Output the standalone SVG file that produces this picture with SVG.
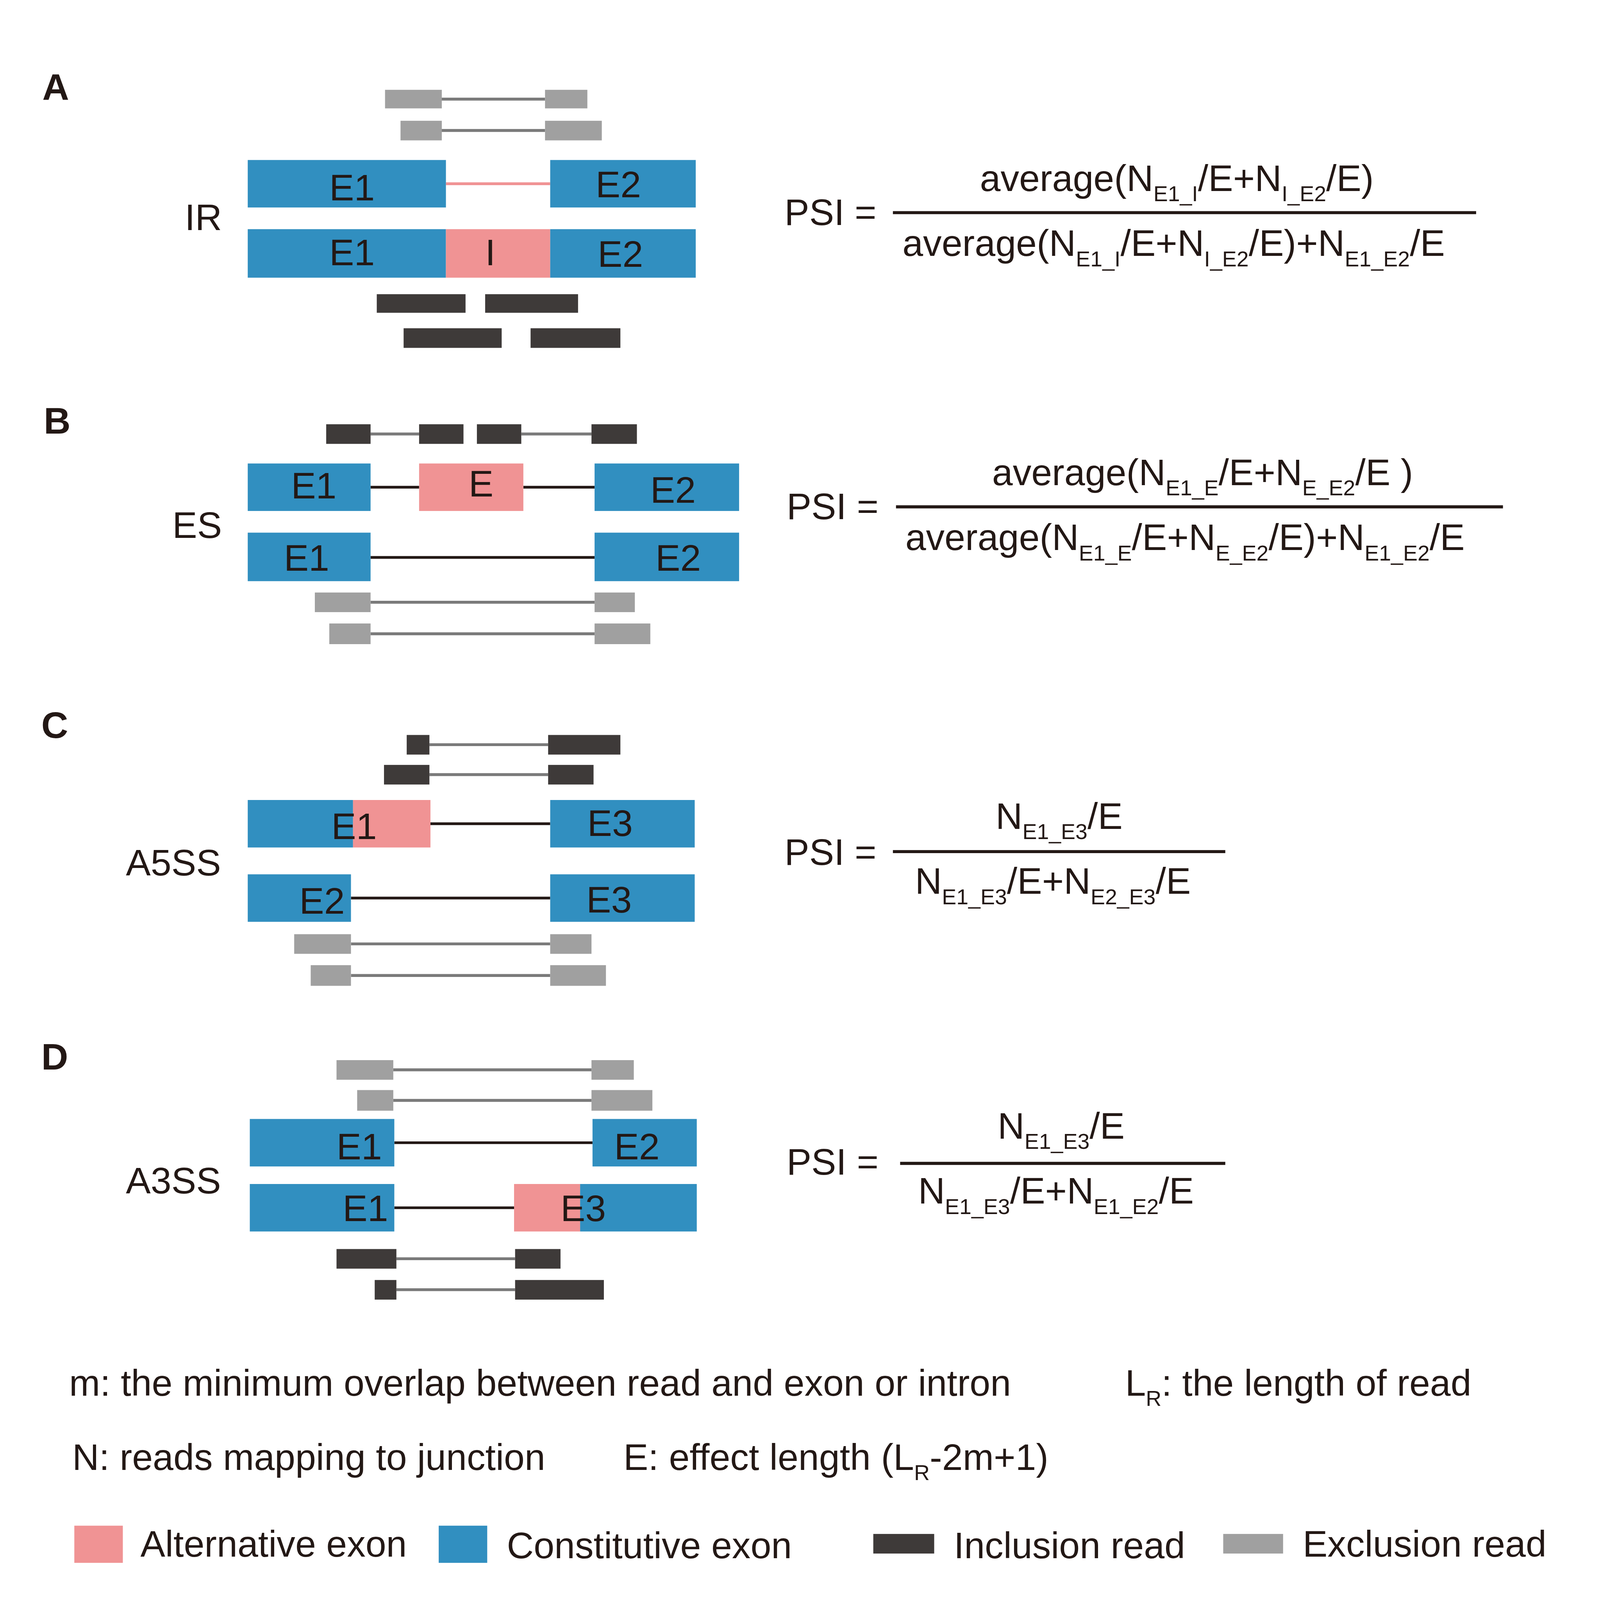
<svg xmlns="http://www.w3.org/2000/svg" width="7750" height="7644" viewBox="0 0 7750 7644" preserveAspectRatio="xMinYMin meet">
<style>
:root{width:100vw;height:100vh}
text{font-family:"Liberation Sans",Arial,sans-serif;fill:#231815;font-size:180px}
.bold{font-weight:bold}
.mid{text-anchor:middle}
.ce{fill:#318fc0}
.ae{fill:#f09394}
.inc{fill:#3e3a39}
.exc{fill:#a0a0a0}
.rl{stroke:#7a7a7a;stroke-width:14;fill:none}
.il{stroke:#231815;stroke-width:13;fill:none}
.pl{stroke:#f09394;stroke-width:14;fill:none}
.fr{stroke:#231815;stroke-width:15;fill:none}
.sub{font-size:105px}
</style>
<rect width="7750" height="7644" fill="#ffffff"/>

<g id="connectors">
  <line class="rl" x1="2140" y1="480" x2="2640" y2="480"/>
  <line class="rl" x1="2140" y1="632" x2="2640" y2="632"/>
  <line class="pl" x1="2160" y1="890" x2="2665" y2="890"/>
  <line class="rl" x1="1795" y1="2102" x2="2030" y2="2102"/>
  <line class="rl" x1="2525" y1="2102" x2="2865" y2="2102"/>
  <line class="il" x1="1795" y1="2360" x2="2030" y2="2360"/>
  <line class="il" x1="2535" y1="2360" x2="2880" y2="2360"/>
  <line class="il" x1="1795" y1="2700" x2="2880" y2="2700"/>
  <line class="rl" x1="1795" y1="2917" x2="2880" y2="2917"/>
  <line class="rl" x1="1795" y1="3070" x2="2880" y2="3070"/>
  <line class="rl" x1="2080" y1="3607" x2="2655" y2="3607"/>
  <line class="rl" x1="2080" y1="3752" x2="2655" y2="3752"/>
  <line class="il" x1="2085" y1="3990" x2="2665" y2="3990"/>
  <line class="il" x1="1700" y1="4350" x2="2665" y2="4350"/>
  <line class="rl" x1="1700" y1="4572" x2="2665" y2="4572"/>
  <line class="rl" x1="1700" y1="4725" x2="2665" y2="4725"/>
  <line class="rl" x1="1905" y1="5182" x2="2865" y2="5182"/>
  <line class="rl" x1="1905" y1="5330" x2="2865" y2="5330"/>
  <line class="il" x1="1910" y1="5535" x2="2870" y2="5535"/>
  <line class="il" x1="1910" y1="5850" x2="2490" y2="5850"/>
  <line class="rl" x1="1920" y1="6097" x2="2495" y2="6097"/>
  <line class="rl" x1="1920" y1="6247" x2="2495" y2="6247"/>
</g>

<g id="panelA">
  <text class="bold" x="205" y="485">A</text>
  <text class="mid" x="985" y="1115">IR</text>
  <g id="A-excl-reads">
    <rect class="exc" x="1865" y="435" width="275" height="90"/>
    <rect class="exc" x="2640" y="435" width="205" height="90"/>
    <rect class="exc" x="1940" y="585" width="200" height="95"/>
    <rect class="exc" x="2640" y="585" width="275" height="95"/>
  </g>
  <g id="A-iso1">
    <rect class="ce" x="1200" y="775" width="960" height="230"/>
    <rect class="ce" x="2665" y="775" width="705" height="230"/>
    <text class="mid" x="1705" y="970">E1</text>
    <text class="mid" x="2995" y="955">E2</text>
  </g>
  <g id="A-iso2">
    <rect class="ce" x="1200" y="1110" width="960" height="235"/>
    <rect class="ae" x="2160" y="1110" width="505" height="235"/>
    <rect class="ce" x="2665" y="1110" width="705" height="235"/>
    <text class="mid" x="1705" y="1285">E1</text>
    <text class="mid" x="2375" y="1285">I</text>
    <text class="mid" x="3005" y="1292">E2</text>
  </g>
  <g id="A-incl-reads">
    <rect class="inc" x="1825" y="1425" width="430" height="90"/>
    <rect class="inc" x="2350" y="1425" width="450" height="90"/>
    <rect class="inc" x="1955" y="1590" width="475" height="95"/>
    <rect class="inc" x="2570" y="1590" width="435" height="95"/>
  </g>
  <g id="A-formula">
    <text x="3800" y="1090">PSI =</text>
    <line class="fr" x1="4325" y1="1030" x2="7150" y2="1030"/>
    <text class="mid" x="5700" y="925">average(N<tspan class="sub" dy="50">E1_I</tspan><tspan dy="-50">/E+N</tspan><tspan class="sub" dy="50">I_E2</tspan><tspan dy="-50">/E)</tspan></text>
    <text class="mid" x="5685" y="1240">average(N<tspan class="sub" dy="50">E1_I</tspan><tspan dy="-50">/E+N</tspan><tspan class="sub" dy="50">I_E2</tspan><tspan dy="-50">/E)+N</tspan><tspan class="sub" dy="50">E1_E2</tspan><tspan dy="-50">/E</tspan></text>
  </g>
</g>

<g id="panelB">
  <text class="bold" x="212" y="2100">B</text>
  <text class="mid" x="955" y="2605">ES</text>
  <g id="B-incl-reads">
    <rect class="inc" x="1580" y="2055" width="215" height="95"/>
    <rect class="inc" x="2030" y="2055" width="215" height="95"/>
    <rect class="inc" x="2310" y="2055" width="215" height="95"/>
    <rect class="inc" x="2865" y="2055" width="220" height="95"/>
  </g>
  <g id="B-iso1">
    <rect class="ce" x="1200" y="2245" width="595" height="230"/>
    <rect class="ae" x="2030" y="2245" width="505" height="230"/>
    <rect class="ce" x="2880" y="2245" width="700" height="230"/>
    <text class="mid" x="1520" y="2415">E1</text>
    <text class="mid" x="2330" y="2405">E</text>
    <text class="mid" x="3260" y="2435">E2</text>
  </g>
  <g id="B-iso2">
    <rect class="ce" x="1200" y="2580" width="595" height="235"/>
    <rect class="ce" x="2880" y="2580" width="700" height="235"/>
    <text class="mid" x="1485" y="2765">E1</text>
    <text class="mid" x="3285" y="2765">E2</text>
  </g>
  <g id="B-excl-reads">
    <rect class="exc" x="1525" y="2870" width="270" height="95"/>
    <rect class="exc" x="2880" y="2870" width="195" height="95"/>
    <rect class="exc" x="1595" y="3020" width="200" height="100"/>
    <rect class="exc" x="2880" y="3020" width="270" height="100"/>
  </g>
  <g id="B-formula">
    <text x="3810" y="2515">PSI =</text>
    <line class="fr" x1="4340" y1="2455" x2="7280" y2="2455"/>
    <text class="mid" x="5825" y="2350">average(N<tspan class="sub" dy="50">E1_E</tspan><tspan dy="-50">/E+N</tspan><tspan class="sub" dy="50">E_E2</tspan><tspan dy="-50">/E )</tspan></text>
    <text class="mid" x="5740" y="2665">average(N<tspan class="sub" dy="50">E1_E</tspan><tspan dy="-50">/E+N</tspan><tspan class="sub" dy="50">E_E2</tspan><tspan dy="-50">/E)+N</tspan><tspan class="sub" dy="50">E1_E2</tspan><tspan dy="-50">/E</tspan></text>
  </g>
</g>

<g id="panelC">
  <text class="bold" x="200" y="3575">C</text>
  <text class="mid" x="840" y="4240">A5SS</text>
  <g id="C-incl-reads">
    <rect class="inc" x="1970" y="3560" width="110" height="95"/>
    <rect class="inc" x="2655" y="3560" width="350" height="95"/>
    <rect class="inc" x="1860" y="3705" width="220" height="95"/>
    <rect class="inc" x="2655" y="3705" width="220" height="95"/>
  </g>
  <g id="C-iso1">
    <rect class="ce" x="1200" y="3875" width="510" height="230"/>
    <rect class="ae" x="1710" y="3875" width="375" height="230"/>
    <rect class="ce" x="2665" y="3875" width="700" height="230"/>
    <text class="mid" x="1715" y="4065">E1</text>
    <text class="mid" x="2955" y="4050">E3</text>
  </g>
  <g id="C-iso2">
    <rect class="ce" x="1200" y="4235" width="500" height="230"/>
    <rect class="ce" x="2665" y="4235" width="700" height="230"/>
    <text class="mid" x="1560" y="4425">E2</text>
    <text class="mid" x="2950" y="4420">E3</text>
  </g>
  <g id="C-excl-reads">
    <rect class="exc" x="1425" y="4525" width="275" height="95"/>
    <rect class="exc" x="2665" y="4525" width="200" height="95"/>
    <rect class="exc" x="1505" y="4675" width="195" height="100"/>
    <rect class="exc" x="2665" y="4675" width="270" height="100"/>
  </g>
  <g id="C-formula">
    <text x="3800" y="4190">PSI =</text>
    <line class="fr" x1="4325" y1="4125" x2="5935" y2="4125"/>
    <text class="mid" x="5130" y="4015">N<tspan class="sub" dy="50">E1_E3</tspan><tspan dy="-50">/E</tspan></text>
    <text class="mid" x="5100" y="4330">N<tspan class="sub" dy="50">E1_E3</tspan><tspan dy="-50">/E+N</tspan><tspan class="sub" dy="50">E2_E3</tspan><tspan dy="-50">/E</tspan></text>
  </g>
</g>

<g id="panelD">
  <text class="bold" x="200" y="5180">D</text>
  <text class="mid" x="840" y="5780">A3SS</text>
  <g id="D-excl-reads">
    <rect class="exc" x="1630" y="5135" width="275" height="95"/>
    <rect class="exc" x="2865" y="5135" width="205" height="95"/>
    <rect class="exc" x="1730" y="5280" width="175" height="100"/>
    <rect class="exc" x="2865" y="5280" width="295" height="100"/>
  </g>
  <g id="D-iso1">
    <rect class="ce" x="1210" y="5420" width="700" height="230"/>
    <rect class="ce" x="2870" y="5420" width="505" height="230"/>
    <text class="mid" x="1740" y="5615">E1</text>
    <text class="mid" x="3085" y="5615">E2</text>
  </g>
  <g id="D-iso2">
    <rect class="ce" x="1210" y="5735" width="700" height="230"/>
    <rect class="ae" x="2490" y="5735" width="320" height="230"/>
    <rect class="ce" x="2810" y="5735" width="565" height="230"/>
    <text class="mid" x="1770" y="5915">E1</text>
    <text class="mid" x="2825" y="5915">E3</text>
  </g>
  <g id="D-incl-reads">
    <rect class="inc" x="1630" y="6050" width="290" height="95"/>
    <rect class="inc" x="2495" y="6050" width="220" height="95"/>
    <rect class="inc" x="1815" y="6200" width="105" height="95"/>
    <rect class="inc" x="2495" y="6200" width="430" height="95"/>
  </g>
  <g id="D-formula">
    <text x="3810" y="5690">PSI =</text>
    <line class="fr" x1="4360" y1="5635" x2="5935" y2="5635"/>
    <text class="mid" x="5140" y="5515">N<tspan class="sub" dy="50">E1_E3</tspan><tspan dy="-50">/E</tspan></text>
    <text class="mid" x="5115" y="5830">N<tspan class="sub" dy="50">E1_E3</tspan><tspan dy="-50">/E+N</tspan><tspan class="sub" dy="50">E1_E2</tspan><tspan dy="-50">/E</tspan></text>
  </g>
</g>

<g id="notes">
  <text x="335" y="6760">m: the minimum overlap between read and exon or intron</text>
  <text x="5450" y="6760">L<tspan class="sub" dy="50">R</tspan><tspan dy="-50">: the length of read</tspan></text>
  <text x="350" y="7120">N: reads mapping to junction</text>
  <text x="3020" y="7120">E: effect length (L<tspan class="sub" dy="50">R</tspan><tspan dy="-50">-2m+1)</tspan></text>
</g>

<g id="legend">
  <g id="legend-alt">
    <rect class="ae" x="360" y="7390" width="235" height="180"/>
    <text x="680" y="7540">Alternative exon</text>
  </g>
  <g id="legend-con">
    <rect class="ce" x="2125" y="7390" width="235" height="180"/>
    <text x="2455" y="7548">Constitutive exon</text>
  </g>
  <g id="legend-inc">
    <rect class="inc" x="4230" y="7430" width="295" height="95"/>
    <text x="4620" y="7548">Inclusion read</text>
  </g>
  <g id="legend-exc">
    <rect class="exc" x="5925" y="7430" width="290" height="95"/>
    <text x="6310" y="7540">Exclusion read</text>
  </g>
</g>
</svg>
